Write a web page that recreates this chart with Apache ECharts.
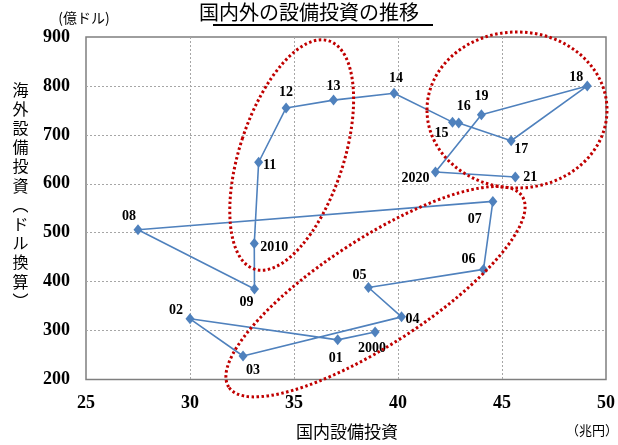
<!DOCTYPE html>
<html><head><meta charset="utf-8">
<script src="https://cdn.jsdelivr.net/npm/echarts@6/dist/echarts.min.js"></script>
<style>html,body{margin:0;padding:0;background:#fff}#c{width:618px;height:445px}</style>
</head><body><div id="c"></div>
<script>
// ---- data ----
const years = ['2000','01','02','03','04','05','06','07','08','09','2010','11','12','13','14','15','16','17','18','19','2020','21'];
const domestic = [38.9,37.1,30.0,32.55,40.17,38.58,44.11,44.56,27.5,33.1,33.09,33.3,34.62,36.9,39.81,42.62,42.92,45.44,49.1,44.01,41.8,45.64]; // 兆円
const overseas = [297,281,324,248,328,388,425,564,506,385,478,644,755,771,785,726,724,688,800,741,624,614]; // 億ドル
const xTicks = [25,30,35,40,45,50];
const yTicks = [200,300,400,500,600,700,800,900];

// ---- style: label offsets (px) per point ----
const labelOffset = {
 '2000':[-3,16],'01':[-2,19],'02':[-14,-8],'03':[10,14],'04':[11,3],'05':[-9,-12],'06':[-15,-10],
 '07':[-18,18],'08':[-9,-13],'09':[-8,13],'2010':[20,4],'11':[11,3],'12':[0,-16],'13':[0,-14],
 '14':[2,-15],'15':[-11,11],'16':[5,-17],'17':[10,9],'18':[-11,-9],'19':[0,-18],'2020':[-20,6],'21':[15,0]
};

const serif = '"Liberation Serif","Times New Roman",serif';
const jp = '"Noto Sans CJK JP","Noto Sans",sans-serif';

const seriesData = years.map((y,i)=>({
  value:[domestic[i], overseas[i]],
  label:{offset: labelOffset[y]}
}));

const chart = echarts.init(document.getElementById('c'));
chart.setOption({
  backgroundColor:'#fff',
  animation:false,
  grid:{left:86,right:6,top:37,bottom:65.5,show:true,borderColor:'#7f7f7f',borderWidth:1.5,backgroundColor:'transparent'},
  xAxis:{type:'value',min:xTicks[0],max:xTicks[xTicks.length-1],interval:5,
    axisLine:{show:false},axisTick:{show:false},
    axisLabel:{margin:15,fontFamily:serif,fontWeight:'bold',fontSize:18,color:'#000'},
    splitLine:{show:true,showMinLine:false,showMaxLine:false,lineStyle:{color:'#a6a6a6',type:[2,2],width:1}}},
  yAxis:{type:'value',min:yTicks[0],max:yTicks[yTicks.length-1],interval:100,
    axisLine:{show:false},axisTick:{show:false},
    axisLabel:{margin:16,fontFamily:serif,fontWeight:'bold',fontSize:18,color:'#000'},
    splitLine:{show:true,showMinLine:false,showMaxLine:false,lineStyle:{color:'#a6a6a6',type:[2,2],width:1}}},
  series:[{
    type:'line',
    data:seriesData,
    symbol:'diamond',symbolSize:[9,11],
    lineStyle:{color:'#4f81bd',width:1.6},
    itemStyle:{color:'#4f81bd'},
    label:{show:true,position:'inside',align:'center',verticalAlign:'middle',
      formatter:p=>years[p.dataIndex],
      fontFamily:serif,fontWeight:'bold',fontSize:14,color:'#000'},
    z:3
  }],
  graphic:[
    {type:'text',left:'center',x:0,top:2,style:{text:'国内外の設備投資の推移',font:'20px '+jp,fill:'#000'},z:10},
    {type:'rect',shape:{x:213,y:24,width:220,height:2},style:{fill:'#000'},z:10},
    {type:'text',x:84,y:18,style:{text:'(億ドル)',font:'14px '+jp,fill:'#000',align:'center',verticalAlign:'middle'},z:10},
    {type:'text',x:20.5,y:80,style:{text:'海\n外\n設\n備\n投\n資\n︵\nド\nル\n換\n算\n︶',font:'16px '+jp,lineHeight:19.2,fill:'#000',align:'center'},z:10},
    {type:'text',x:347,y:432,style:{text:'国内設備投資',font:'17px '+jp,fill:'#000',align:'center',verticalAlign:'middle'},z:10},
    {type:'text',x:592,y:430,style:{text:'（兆円）',font:'13px '+jp,fill:'#000',align:'center',verticalAlign:'middle'},z:10},
    {type:'ellipse',x:291.7,y:155,rotation:-0.316,shape:{cx:0,cy:0,rx:52,ry:120},
      style:{fill:'none',stroke:'#c00000',lineWidth:3,lineDash:[2.5,2.5]},z:20},
    {type:'ellipse',x:517,y:110,rotation:0,shape:{cx:0,cy:0,rx:90,ry:78},
      style:{fill:'none',stroke:'#c00000',lineWidth:3,lineDash:[2.5,2.5]},z:20},
    {type:'ellipse',x:375.5,y:291.7,rotation:0.576,shape:{cx:0,cy:0,rx:175,ry:53},
      style:{fill:'none',stroke:'#c00000',lineWidth:3,lineDash:[2.5,2.5]},z:20}
  ]
});
</script></body></html>
